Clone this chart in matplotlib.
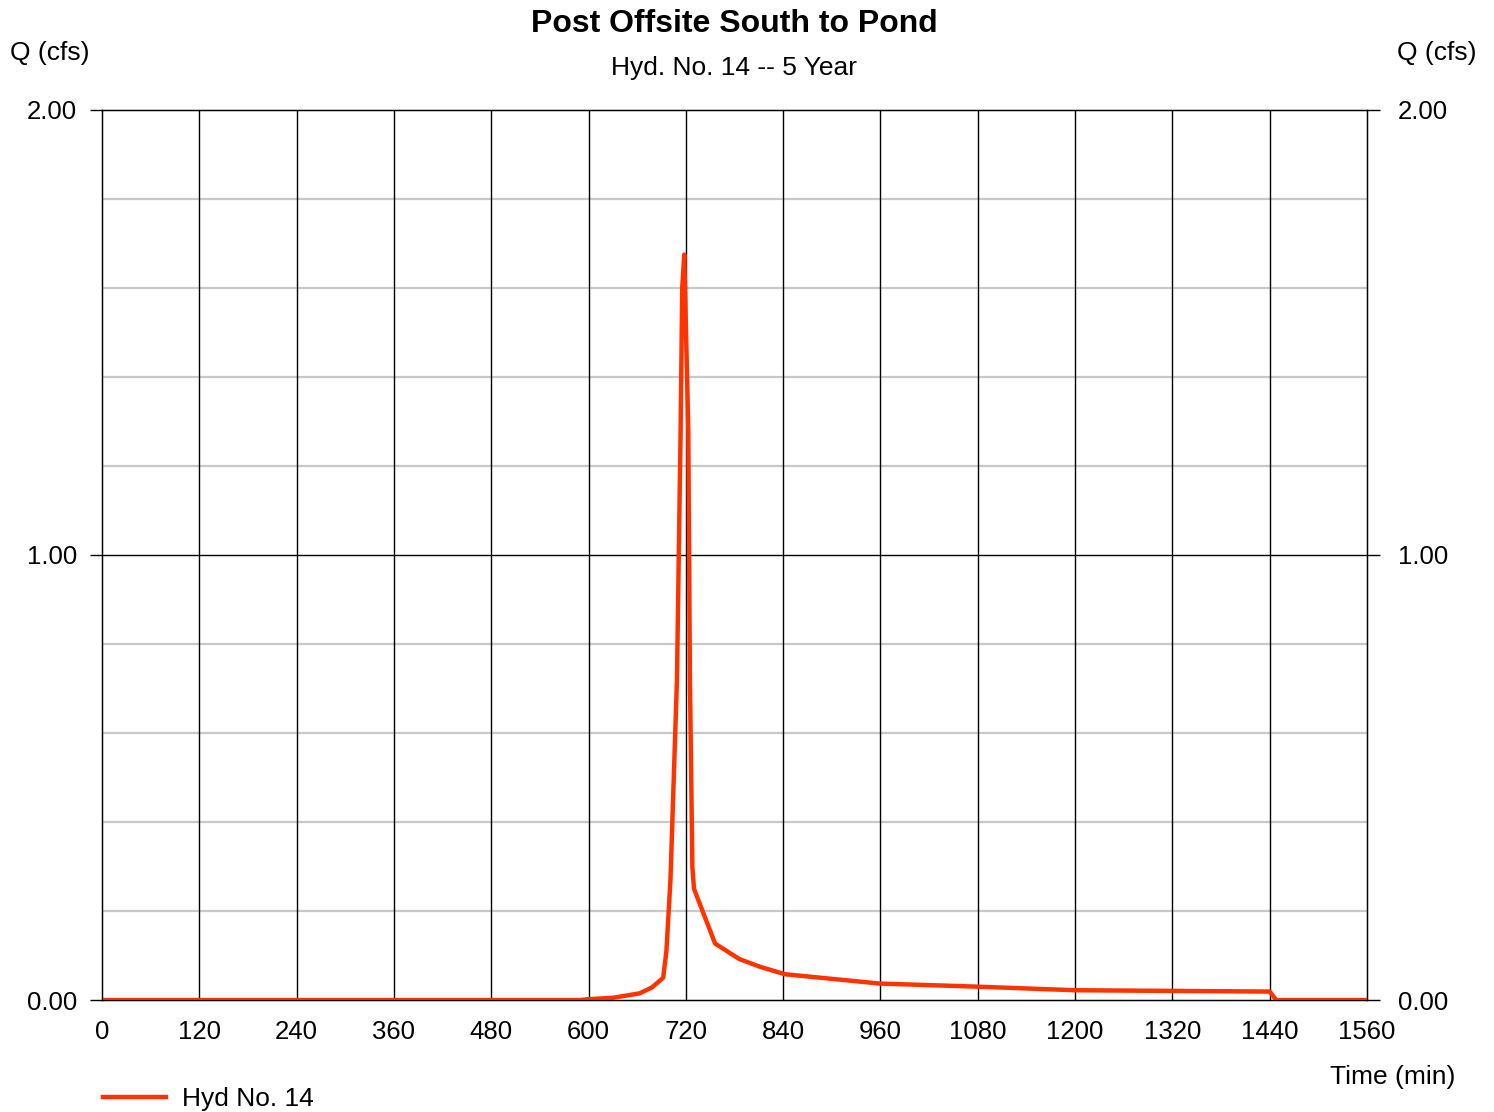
import numpy as np
import matplotlib.pyplot as plt

plt.rcParams['font.family'] = ['Liberation Sans', 'DejaVu Sans']

# hydrograph (time in min, flow in cfs)
time_min = [0, 590, 600, 630, 663, 678, 692, 696, 701, 709, 713.5, 715.5, 718,
            723, 725, 728, 730, 756, 786, 811, 842, 959, 1080, 1200,
            1440, 1448, 1560]
flow_cfs = [0.0, 0.0, 0.002, 0.005, 0.015, 0.028, 0.05, 0.11, 0.27, 0.72, 1.28, 1.60, 1.675,
            1.28, 0.72, 0.30, 0.25, 0.127, 0.092, 0.075, 0.058, 0.037, 0.030, 0.022,
            0.019, 0.0, 0.0]

x_ticks = np.arange(0, 1561, 120)
y_major = [0.0, 1.0, 2.0]
y_minor = np.arange(0.2, 2.0, 0.2)

line_color = '#ff3300'

fig = plt.figure(figsize=(14.94, 11.12), dpi=100)
ax = fig.add_axes([0.0683, 0.1007, 0.8467, 0.8004])

ax.set_xlim(0, 1560)
ax.set_ylim(0, 2)

# grid
for yy in y_minor:
    if abs(yy - 1.0) > 1e-6:
        ax.axhline(yy, color='#c8c8c8', lw=1.6, zorder=1)
ax.axhline(1.0, color='black', lw=1.0, zorder=1)
for xx in x_ticks[1:-1]:
    ax.axvline(xx, color='black', lw=1.0, zorder=1)

ax.plot(time_min, flow_cfs, color=line_color, lw=3.2, zorder=3, label='Hyd No. 14')

ax.set_xticks(x_ticks)
ax.set_xticklabels([str(v) for v in x_ticks])
ax.set_yticks(y_major)
ax.set_yticklabels(['%.2f' % v for v in y_major])
ax.tick_params(axis='x', length=0, pad=14.5, labelsize=18.5)
ax.tick_params(axis='y', length=9, width=1, pad=9, labelsize=18.5, direction='out')

for sp in ax.spines.values():
    sp.set_linewidth(1.0)

ax2 = ax.twinx()
ax2.set_ylim(0, 2)
ax2.set_yticks(y_major)
ax2.set_yticklabels(['%.2f' % v for v in y_major])
ax2.tick_params(axis='y', length=9, width=1, pad=13, labelsize=18.5, direction='out')

fig.text(0.4913, 0.978, 'Post Offsite South to Pond', ha='center', va='center',
         fontsize=23, fontweight='bold')
fig.text(0.4913, 0.9385, 'Hyd. No. 14 -- 5 Year', ha='center', va='center', fontsize=19)
fig.text(0.0067, 0.9525, 'Q (cfs)', ha='left', va='center', fontsize=19)
fig.text(0.988, 0.9525, 'Q (cfs)', ha='right', va='center', fontsize=19)
fig.text(0.974, 0.0315, 'Time (min)', ha='right', va='center', fontsize=19)

ax.legend(loc='center left', bbox_to_anchor=(0.0687, 0.0117), bbox_transform=fig.transFigure,
          frameon=False, fontsize=19, handlelength=2.4, handletextpad=0.6,
          borderpad=0, borderaxespad=0)

fig.savefig('out.png', dpi=100)
